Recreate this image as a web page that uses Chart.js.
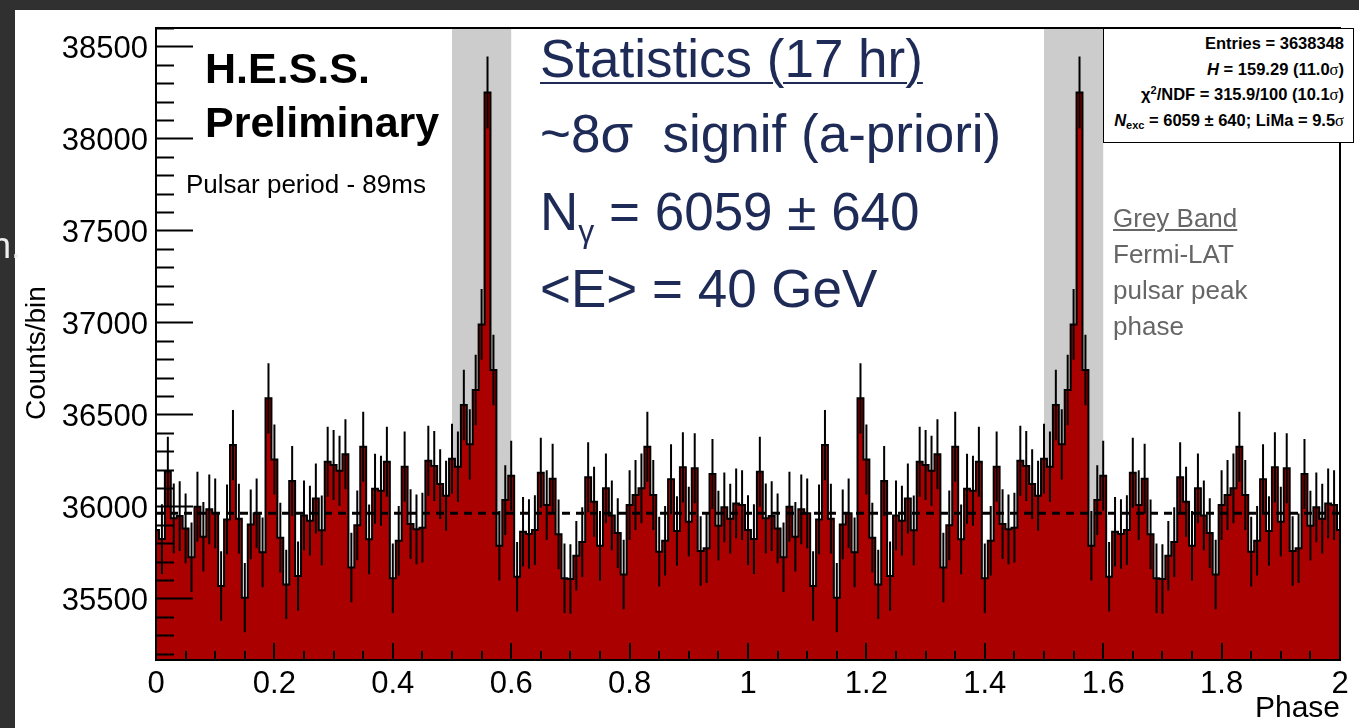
<!DOCTYPE html>
<html lang="en">
<head>
  <meta charset="UTF-8" />
  <title>H.E.S.S. pulsar phaseogram</title>
  <script src="https://cdn.jsdelivr.net/npm/chart.js"></script>
  <style>
    body {
      margin: 0;
      background: #303030;
      font-family: 'Liberation Sans', Arial, sans-serif;
    }

    #wrap {
      position: relative;
      width: 1359px;
      height: 728px;
      overflow: hidden;
    }

    #wrap canvas {
      position: absolute;
      left: 0;
      top: 0;
    }

    .txt {
      position: absolute;
      white-space: nowrap;
      line-height: 1;
    }

    .hess {
      font-weight: bold;
      font-size: 43px;
      color: #000;
    }

    .period {
      font-size: 26px;
      color: #000;
    }

    .ytitle {
      font-size: 28px;
      color: #000;
      transform-origin: 0 0;
      transform: rotate(-90deg);
    }

    .big {
      font-size: 53px;
      color: #1f2b57;
    }

    .big sub {
      font-size: 32px;
      vertical-align: -12px;
    }

    .band-note {
      font-size: 26px;
      color: #666;
      line-height: 36px;
    }

    .stats {
      position: absolute;
      left: 1103px;
      top: 28px;
      width: 251px;
      height: 115px;
      border: 1.5px solid #000;
      background: #fff;
      font-weight: bold;
      font-size: 16.5px;
      text-align: right;
      box-sizing: border-box;
      padding: 2px 9px 0 0;
      line-height: 25.5px;
    }

    .stats .sig {
      font-family: 'Liberation Serif', serif;
      font-weight: normal;
    }

    .stats sub {
      font-size: 11px;
      vertical-align: -3px;
      line-height: 0;
    }

    .stats sup {
      font-size: 11px;
      vertical-align: 6px;
      line-height: 0;
    }
  </style>
</head>
<body>
  <div id="wrap">
    <canvas id="phaseChart"></canvas>

    <div class="txt" style="left:-9px; top:228px; font-size:36px; color:#eee;">n.</div>

    <div class="txt ytitle" style="left:22px; top:420px;">Counts/bin</div>

    <div class="txt hess" style="left:205px; top:47px;">H.E.S.S.</div>
    <div class="txt hess" style="left:205px; top:101px;">Preliminary</div>
    <div class="txt period" style="left:186px; top:171px;">Pulsar period - 89ms</div>

    <div class="txt big" style="left:540px; top:32px; text-decoration: underline; text-decoration-thickness: 2px; text-underline-offset: 5px;">Statistics (17 hr)</div>
    <div class="txt big" style="left:540px; top:107px;">~8σ&nbsp; signif (a-priori)</div>
    <div class="txt big" style="left:540px; top:185px;">N<sub>γ</sub> = 6059 ± 640</div>
    <div class="txt big" style="left:540px; top:262px;">&lt;E&gt; = 40 GeV</div>

    <div class="txt band-note" style="left:1113px; top:200px;">
      <span style="text-decoration: underline;">Grey Band</span><br />
      Fermi-LAT<br />
      pulsar peak<br />
      phase
    </div>

    <div class="stats">
      <div>Entries = 3638348</div>
      <div><i>H</i> = 159.29 (11.0<span class="sig">σ</span>)</div>
      <div>χ<sup>2</sup>/NDF = 315.9/100 (10.1<span class="sig">σ</span>)</div>
      <div><i>N</i><sub>exc</sub> = 6059 ± 640; LiMa = 9.5<span class="sig">σ</span></div>
    </div>
  </div>

  <script>
    // counts per phase bin, one pulsar cycle (100 bins centred on 0.00, 0.01, ...)
    const counts = [
      35871, 35822, 36188, 35935, 35947, 35880, 35723, 35998, 35835, 35984,
      35962, 35567, 35929, 36333, 35933, 35504, 35902, 35962, 35750, 36587,
      36255, 35830, 35576, 36138, 35621, 35951, 35922, 36043, 35870, 36243,
      36225, 36194, 36283, 35668, 35897, 36324, 35821, 36096, 36085, 36243,
      35609, 35813, 36216, 35904, 35875, 35884, 36248, 36219, 36121, 36058,
      36259, 36216, 36551, 36337, 36632, 36989, 38250, 36741, 35786, 36034,
      36167, 35618, 35862, 35850, 35871, 36183, 36007, 36150, 35848, 35609,
      35605, 35732, 35806, 36158, 36025, 35786, 36098, 35951, 35855, 35630,
      36007, 36062, 36098, 36324, 36062, 35754, 35813, 36147, 35866, 36212,
      35917, 36207, 35757, 35772, 36176, 35895, 35995, 35933, 36016, 36007
    ];
    const cycles = 2;
    const backgroundLevel = 35962;
    const fermiPeakStart = [0.5, 1.5];
    const fermiPeakWidth = 0.1;
    const yMin = 35165;
    const yMax = 38600;

    const FONT = "'Liberation Sans', Arial, sans-serif";

    // two cycles, plus the phase-2.0 bin which wraps back to the first one
    const allCounts = [];
    for (let c = 0; c < cycles; c++) allCounts.push(...counts);
    allCounts.push(counts[0]);
    const binW = 1 / counts.length;

    const histPoints = allCounts.map((v, i) => ({ x: (i - 0.5) * binW, y: v }));
    histPoints.push({ x: (allCounts.length - 0.5) * binW, y: allCounts[allCounts.length - 1] });

    // poisson error bars, sqrt(N)
    const errPoints = [];
    allCounts.forEach((v, i) => {
      const xc = i * binW;
      const e = Math.sqrt(v);
      errPoints.push({ x: xc, y: v - e }, { x: xc, y: v + e }, { x: xc, y: null });
    });

    const isMajor = (v, step) => Math.abs(v / step - Math.round(v / step)) < 1e-6;

    const pagePlugin = {
      id: 'page',
      beforeDraw(chart) {
        const ctx = chart.ctx;
        ctx.save();
        ctx.fillStyle = '#303030';
        ctx.fillRect(0, 0, chart.width, chart.height);
        ctx.fillStyle = '#ffffff';
        ctx.fillRect(15, 10, chart.width - 15, chart.height - 10);
        ctx.restore();
      }
    };

    const bandPlugin = {
      id: 'bands',
      beforeDatasetsDraw(chart) {
        const { ctx, chartArea: a, scales: { x } } = chart;
        ctx.save();
        ctx.fillStyle = '#cccccc';
        fermiPeakStart.forEach(s => {
          const x1 = x.getPixelForValue(s);
          const x2 = x.getPixelForValue(s + fermiPeakWidth);
          ctx.fillRect(x1, a.top, x2 - x1, a.bottom - a.top);
        });
        ctx.restore();
      }
    };

    // ROOT style frame with inner ticks
    const framePlugin = {
      id: 'frame',
      afterDatasetsDraw(chart) {
        const { ctx, chartArea: a, scales: { x, y } } = chart;
        ctx.save();
        ctx.strokeStyle = '#000';
        ctx.lineWidth = 2;
        ctx.beginPath();
        y.ticks.forEach(t => {
          const py = Math.round(y.getPixelForValue(t.value)) + 0.5;
          const len = isMajor(t.value, 500) ? 37 : 18;
          ctx.moveTo(a.left, py);
          ctx.lineTo(a.left + len, py);
        });
        x.ticks.forEach(t => {
          const px = Math.round(x.getPixelForValue(t.value));
          const len = isMajor(t.value, 0.2) ? 17 : 9;
          ctx.moveTo(px, a.bottom);
          ctx.lineTo(px, a.bottom - len);
        });
        ctx.stroke();
        ctx.strokeRect(a.left, a.top, a.right - a.left, a.bottom - a.top);
        ctx.restore();
      }
    };

    new Chart(document.getElementById('phaseChart'), {
      type: 'line',
      data: {
        datasets: [
          {
            label: 'Counts',
            data: histPoints,
            stepped: 'before',
            borderColor: '#000',
            borderWidth: 2,
            backgroundColor: '#aa0000',
            fill: 'start',
            pointRadius: 0,
            order: 3
          },
          {
            label: 'Errors',
            data: errPoints,
            borderColor: '#000',
            borderWidth: 2,
            pointRadius: 0,
            spanGaps: false,
            fill: false,
            order: 2
          },
          {
            label: 'Background',
            data: [{ x: 0, y: backgroundLevel }, { x: cycles, y: backgroundLevel }],
            borderColor: '#000',
            borderWidth: 3,
            borderDash: [8, 6],
            pointRadius: 0,
            fill: false,
            order: 1
          }
        ]
      },
      options: {
        responsive: true,
        maintainAspectRatio: false,
        animation: false,
        layout: { padding: { top: 28, right: 19, left: 0, bottom: 0 } },
        plugins: {
          legend: { display: false },
          tooltip: { enabled: false }
        },
        scales: {
          x: {
            type: 'linear',
            min: 0,
            max: cycles,
            offset: false,
            grid: { display: false, drawTicks: false },
            border: { display: false },
            ticks: {
              stepSize: 0.05,
              autoSkip: false,
              maxRotation: 0,
              includeBounds: false,
              padding: 6,
              color: '#000',
              font: { family: FONT, size: 31 },
              callback: v => (isMajor(v, 0.2) ? String(+v.toFixed(1)) : '')
            },
            title: {
              display: true,
              text: 'Phase',
              align: 'end',
              color: '#000',
              font: { family: FONT, size: 30 },
              padding: { top: 0, bottom: 1 }
            },
            afterFit: s => { s.height = 68; }
          },
          y: {
            min: yMin,
            max: yMax,
            grid: { display: false, drawTicks: false },
            border: { display: false },
            ticks: {
              stepSize: 100,
              autoSkip: false,
              includeBounds: false,
              padding: 8,
              labelOffset: 3,
              color: '#000',
              font: { family: FONT, size: 31 },
              callback: v => (isMajor(v, 500) ? String(v) : '')
            },
            afterFit: s => { s.width = 156; }
          }
        }
      },
      plugins: [pagePlugin, bandPlugin, framePlugin]
    });
  </script>
</body>
</html>
